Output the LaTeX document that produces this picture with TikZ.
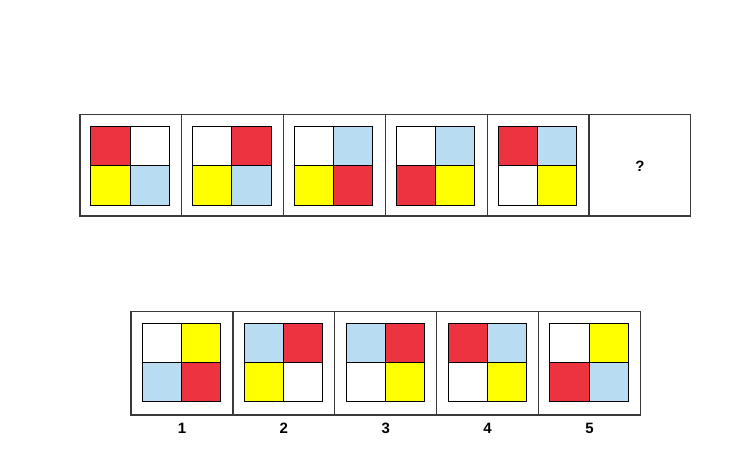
\documentclass[tikz,border=0pt]{standalone}
\usepackage{fontspec}
\setmainfont{Liberation Sans}
\definecolor{pred}{HTML}{EE3340}
\definecolor{pblue}{HTML}{B8DCF2}
\definecolor{pyel}{HTML}{FFFF00}
\definecolor{pwhite}{HTML}{FFFFFF}
\definecolor{pframe}{HTML}{3A3A3A}
\begin{document}
\begin{tikzpicture}[x=1pt,y=-1pt,
  cellbox/.style={draw=pframe,line width=1.3pt,minimum width=101.8pt,minimum height=101.8pt,inner sep=0pt,outer sep=0pt},
  cellboxlow/.style={draw=pframe,line width=1.3pt,minimum width=101.9pt,minimum height=103.3pt,inner sep=0pt,outer sep=0pt},
  quadbox/.style={draw=black,line width=0.9pt,minimum size=39.2pt,inner sep=0pt,outer sep=0pt},
  lbl/.style={font=\bfseries\fontsize{15}{15}\selectfont,inner sep=0pt}]
\useasboundingbox (0,0) rectangle (746,456);
% top row
\foreach \i/\a/\b/\c/\d in {1/pred/pwhite/pyel/pblue,2/pwhite/pred/pyel/pblue,3/pwhite/pblue/pyel/pred,4/pwhite/pblue/pred/pyel,5/pred/pblue/pwhite/pyel}{
  \pgfmathsetmacro{\cx}{80+101.8*(\i-0.5)}
  \node[cellbox] (t\i) at (\cx,165.2) {};
  \node[quadbox,fill=\a] (t\i a) at (\cx-0.9-19.6,165.8-19.6) {};
  \node[quadbox,fill=\b] (t\i b) at (\cx-0.9+19.6,165.8-19.6) {};
  \node[quadbox,fill=\c] (t\i c) at (\cx-0.9-19.6,165.8+19.6) {};
  \node[quadbox,fill=\d] (t\i d) at (\cx-0.9+19.6,165.8+19.6) {};
}
\node[cellbox] (t6) at (639.8,165.2) {};
\node[lbl] (q) at (640,166.5) {?};
% bottom row
\foreach \i/\a/\b/\c/\d in {1/pwhite/pyel/pblue/pred,2/pblue/pred/pyel/pwhite,3/pblue/pred/pwhite/pyel,4/pred/pblue/pwhite/pyel,5/pwhite/pyel/pred/pblue}{
  \pgfmathsetmacro{\cx}{131+101.9*(\i-0.5)}
  \node[cellboxlow] (b\i) at (\cx,363.3) {};
  \node[quadbox,fill=\a] (b\i a) at (\cx-0.5-19.6,362.5-19.6) {};
  \node[quadbox,fill=\b] (b\i b) at (\cx-0.5+19.6,362.5-19.6) {};
  \node[quadbox,fill=\c] (b\i c) at (\cx-0.5-19.6,362.5+19.6) {};
  \node[quadbox,fill=\d] (b\i d) at (\cx-0.5+19.6,362.5+19.6) {};
  \node[lbl] (l\i) at (\cx,428) {\i};
}
\end{tikzpicture}
\end{document}
